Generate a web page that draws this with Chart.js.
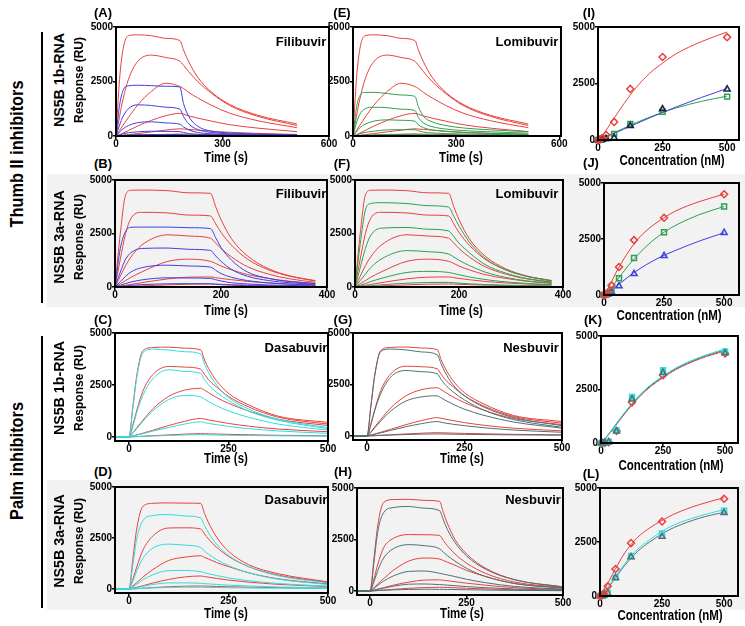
<!DOCTYPE html>
<html>
<head>
<meta charset="utf-8">
<script src="https://cdn.jsdelivr.net/npm/chart.js@4.4.0/dist/chart.umd.min.js"></script>
<style>
  body { margin: 0; background: #fff; }
  #fig { position: relative; width: 745px; height: 626px; overflow: hidden; font-family: 'Liberation Sans', Arial, sans-serif; color: #000; }
  .t { position: absolute; white-space: nowrap; line-height: 1; font-weight: bold; }
  .band { position: absolute; background: #f2f2f2; }
  .rule { position: absolute; background: #000; width: 2px; }
</style>
</head>
<body>
<div id="fig">
  <div class="band" style="left:47px;top:174px;width:698px;height:133px"></div>
  <div class="band" style="left:47px;top:480px;width:698px;height:130px"></div>
  <div class="rule" style="left:41px;top:32px;height:271px"></div>
  <div class="rule" style="left:41px;top:336px;height:272px"></div>
</div>
<script>
// ---------- data ----------
// sensorgram time points (s)
var tThumb1b = [0, 10, 20, 35, 60, 100, 140, 180, 190, 205, 230, 270, 320, 400, 510];
var tThumb3a = [0, 10, 20, 30, 50, 100, 140, 180, 190, 200, 220, 250, 290, 330, 378];
var tPalm = [-35, 0, 10, 20, 35, 60, 100, 140, 180, 190, 200, 220, 250, 300, 375, 500];

// (A)/(E) reference red curves, NS5B 1b
var red1bThumb = [
  [0, 2600, 4000, 4600, 4640, 4600, 4480, 4380, 3950, 3400, 2700, 2000, 1450, 950, 550],
  [0, 900, 1700, 2600, 3400, 3710, 3600, 3430, 3250, 2950, 2500, 1950, 1400, 900, 480],
  [0, 250, 500, 850, 1400, 2050, 2420, 2270, 2180, 2000, 1750, 1400, 1050, 700, 380],
  [0, 60, 130, 250, 450, 720, 930, 1040, 1000, 920, 820, 680, 520, 360, 200],
  [0, 15, 30, 60, 110, 190, 270, 330, 320, 300, 270, 220, 170, 120, 70],
  [0, 5, 10, 20, 35, 55, 75, 90, 88, 85, 80, 70, 55, 40, 25]
];
var filib1b = [
  [0, 1400, 2100, 2300, 2330, 2310, 2280, 2250, 1500, 900, 450, 220, 140, 90, 60],
  [0, 500, 900, 1250, 1430, 1400, 1320, 1230, 900, 550, 300, 160, 100, 70, 45],
  [0, 180, 330, 480, 610, 650, 600, 540, 420, 280, 160, 100, 70, 50, 35],
  [0, 50, 100, 150, 190, 220, 210, 200, 160, 110, 70, 50, 40, 30, 25],
  [0, 15, 30, 45, 60, 70, 70, 65, 55, 40, 30, 25, 20, 15, 12]
];
var lomib1b = [
  [0, 1300, 1850, 2000, 2000, 1950, 1880, 1820, 1350, 900, 650, 480, 370, 280, 200],
  [0, 600, 1000, 1250, 1320, 1300, 1230, 1170, 850, 600, 430, 320, 250, 190, 130],
  [0, 200, 380, 540, 680, 740, 720, 680, 520, 380, 280, 210, 160, 120, 80],
  [0, 50, 100, 160, 220, 280, 290, 290, 240, 180, 140, 110, 90, 70, 50],
  [0, 10, 20, 35, 50, 70, 80, 85, 75, 60, 50, 40, 35, 30, 25]
];

// (B)/(F) NS5B 3a
var red3aThumb = [
  [0, 2500, 4300, 4520, 4530, 4500, 4400, 4380, 3750, 3150, 2250, 1450, 850, 520, 300],
  [0, 1300, 2500, 3200, 3490, 3460, 3360, 3320, 2950, 2550, 1950, 1300, 800, 500, 280],
  [0, 500, 1000, 1400, 1950, 2440, 2380, 2280, 2050, 1800, 1400, 950, 600, 380, 220],
  [0, 150, 300, 450, 700, 1200, 1300, 1200, 1100, 980, 800, 580, 400, 270, 170],
  [0, 40, 80, 120, 200, 380, 460, 470, 440, 400, 340, 260, 190, 140, 100],
  [0, 10, 20, 30, 50, 100, 130, 140, 135, 125, 110, 90, 70, 55, 40]
];
var filib3a = [
  [0, 1800, 2600, 2790, 2800, 2800, 2770, 2730, 2300, 1850, 1250, 700, 400, 250, 160],
  [0, 700, 1300, 1600, 1800, 1820, 1760, 1710, 1450, 1200, 820, 500, 300, 200, 130],
  [0, 250, 500, 700, 900, 1020, 980, 930, 780, 630, 450, 300, 190, 130, 90],
  [0, 80, 160, 230, 330, 430, 420, 400, 340, 280, 200, 140, 95, 70, 50],
  [0, 25, 50, 75, 110, 150, 155, 150, 130, 110, 85, 60, 45, 35, 25]
];
var lomib3a = [
  [0, 2000, 3600, 3900, 3940, 3900, 3800, 3735, 3300, 2850, 2100, 1350, 800, 500, 300],
  [0, 900, 1800, 2400, 2750, 2780, 2700, 2620, 2350, 2050, 1600, 1050, 650, 400, 240],
  [0, 300, 600, 900, 1300, 1700, 1650, 1540, 1400, 1250, 1000, 700, 450, 290, 180],
  [0, 80, 160, 250, 400, 680, 730, 680, 630, 570, 470, 350, 240, 170, 110],
  [0, 20, 40, 60, 100, 180, 210, 215, 200, 180, 150, 115, 85, 65, 45]
];

// (C)/(G) palm, NS5B 1b
var red1bPalm = [
  [0, 0, 1500, 3000, 4150, 4300, 4320, 4270, 4190, 3700, 3300, 2700, 2100, 1550, 1000, 700],
  [0, 0, 600, 1300, 2200, 3000, 3390, 3360, 3260, 3000, 2750, 2400, 1950, 1450, 950, 620],
  [0, 0, 200, 450, 800, 1350, 1950, 2250, 2340, 2250, 2130, 1900, 1620, 1250, 850, 550],
  [0, 0, 50, 100, 180, 320, 550, 750, 890, 860, 820, 750, 650, 520, 380, 250],
  [0, 0, 10, 20, 35, 60, 100, 135, 160, 155, 150, 140, 125, 105, 80, 55]
];
var dasa1b = [
  [0, 0, 1400, 2900, 4050, 4220, 4180, 4100, 4000, 3500, 3100, 2500, 1900, 1350, 850, 450],
  [0, 0, 500, 1200, 2000, 2800, 3230, 3150, 3060, 2750, 2500, 2150, 1750, 1250, 800, 400],
  [0, 0, 180, 400, 750, 1250, 1800, 2000, 1935, 1820, 1700, 1500, 1250, 950, 620, 330],
  [0, 0, 40, 90, 160, 280, 450, 620, 730, 690, 650, 590, 510, 400, 290, 170],
  [0, 0, 8, 15, 25, 45, 70, 95, 110, 105, 100, 92, 82, 70, 55, 40]
];
var nesb1b = [
  [0, 0, 1450, 2950, 4100, 4220, 4180, 4080, 3945, 3500, 3100, 2500, 1950, 1400, 900, 500],
  [0, 0, 550, 1250, 2050, 2850, 3180, 3120, 3020, 2750, 2500, 2150, 1750, 1250, 800, 420],
  [0, 0, 180, 400, 720, 1200, 1700, 1900, 1950, 1850, 1740, 1550, 1300, 1000, 680, 380],
  [0, 0, 40, 85, 150, 270, 450, 600, 700, 670, 630, 570, 500, 400, 290, 180],
  [0, 0, 8, 15, 25, 45, 70, 90, 100, 98, 95, 88, 80, 68, 55, 40]
];

// (D) palm, NS5B 3a
var redDasa3a = [
  [0, 0, 1500, 3000, 4050, 4200, 4220, 4210, 4200, 3700, 3250, 2550, 1850, 1200, 750, 350],
  [0, 0, 500, 1100, 1900, 2600, 2990, 3000, 2950, 2700, 2450, 2050, 1600, 1100, 680, 320],
  [0, 0, 150, 320, 580, 950, 1400, 1560, 1630, 1550, 1470, 1300, 1100, 800, 500, 250],
  [0, 0, 40, 90, 160, 290, 470, 590, 640, 610, 580, 520, 440, 340, 230, 120],
  [0, 0, 10, 20, 40, 70, 110, 140, 150, 145, 140, 125, 110, 90, 65, 40]
];
var dasa3a = [
  [0, 0, 1200, 2500, 3350, 3600, 3650, 3580, 3490, 3100, 2750, 2200, 1650, 1100, 650, 300],
  [0, 0, 400, 900, 1500, 2000, 2200, 2150, 2040, 1850, 1700, 1450, 1150, 800, 480, 220],
  [0, 0, 100, 240, 450, 700, 900, 910, 850, 800, 750, 660, 550, 410, 270, 140],
  [0, 0, 30, 70, 130, 220, 300, 300, 280, 265, 250, 225, 190, 150, 100, 60],
  [0, 0, 8, 18, 30, 55, 80, 90, 90, 85, 80, 75, 65, 52, 40, 25]
];
// (H)
var redNesb3a = [
  [0, 0, 1600, 3200, 4300, 4440, 4450, 4400, 4350, 3800, 3300, 2500, 1800, 1100, 550, 200],
  [0, 0, 600, 1300, 2100, 2550, 2740, 2730, 2700, 2450, 2200, 1800, 1350, 850, 430, 170],
  [0, 0, 150, 350, 600, 1000, 1450, 1600, 1550, 1480, 1400, 1250, 1000, 700, 360, 140],
  [0, 0, 40, 90, 160, 280, 430, 530, 540, 520, 500, 450, 380, 280, 160, 70],
  [0, 0, 10, 25, 45, 80, 130, 165, 180, 175, 170, 155, 130, 100, 60, 30]
];
var nesb3a = [
  [0, 0, 1400, 2900, 3800, 4050, 4100, 4020, 3900, 3450, 3000, 2350, 1700, 1050, 540, 200],
  [0, 0, 450, 1000, 1600, 2050, 2250, 2200, 2050, 1880, 1720, 1450, 1100, 700, 360, 140],
  [0, 0, 120, 280, 480, 730, 950, 970, 860, 820, 780, 700, 570, 400, 220, 90],
  [0, 0, 35, 80, 140, 230, 330, 340, 310, 300, 285, 255, 215, 160, 95, 40],
  [0, 0, 10, 20, 35, 55, 75, 85, 80, 78, 75, 70, 60, 45, 30, 15]
];

// steady-state binding (nM vs RU)
var conc = [0, 7.8, 15.6, 31.25, 62.5, 125, 250, 500];
var fitConc = [0, 25, 50, 100, 150, 200, 250, 300, 400, 500];

var iRed = [0, 30, 80, 220, 800, 2260, 3670, 4550];
var iBlue = [0, 10, 20, 50, 100, 630, 1370, 2250];
var iGreen = [0, 10, 25, 80, 270, 710, 1250, 1920];
var iRedFit = [0, 330, 750, 1600, 2350, 2950, 3400, 3800, 4350, 4780];
var iBlueFit = [0, 110, 230, 480, 730, 980, 1220, 1450, 1880, 2280];
var iGreenFit = [0, 120, 250, 520, 780, 1010, 1220, 1410, 1710, 1940];

var jRed = [0, 40, 100, 430, 1250, 2450, 3450, 4500];
var jGreen = [0, 20, 60, 240, 750, 1650, 2800, 3950];
var jBlue = [0, 10, 30, 130, 400, 950, 1750, 2780];
var jRedFit = [0, 450, 1000, 1900, 2600, 3080, 3450, 3760, 4180, 4500];
var jGreenFit = [0, 250, 600, 1300, 1900, 2400, 2800, 3120, 3600, 3950];
var jBlueFit = [0, 150, 370, 800, 1180, 1500, 1770, 2000, 2420, 2780];

var kCyan = [0, 0, 10, 60, 600, 2150, 3400, 4280];
var kGray = [0, 0, 10, 50, 550, 2050, 3280, 4200];
var kRed = [0, 0, 5, 40, 560, 1900, 3170, 4180];
var kCyanFit = [0, 340, 730, 1500, 2180, 2720, 3130, 3500, 4020, 4400];
var kGrayFit = [0, 330, 710, 1470, 2140, 2680, 3090, 3460, 3980, 4350];
var kRedFit = [0, 310, 680, 1430, 2100, 2640, 3050, 3420, 3940, 4300];

var lRed = [0, 30, 120, 450, 1250, 2450, 3450, 4500];
var lCyan = [0, 10, 50, 150, 850, 1850, 2900, 3950];
var lGray = [0, 5, 30, 120, 850, 1800, 2750, 3850];
var lRedFit = [0, 450, 1000, 2000, 2700, 3150, 3500, 3800, 4230, 4550];
var lCyanFit = [0, 300, 700, 1500, 2150, 2600, 3000, 3300, 3700, 4000];
var lGrayFit = [0, 280, 650, 1420, 2050, 2500, 2880, 3180, 3600, 3880];

var yTicks = [0, 2500, 5000];

// ---------- colours ----------
var RED = '#e8403c', BLUE = '#3f3fe0', GREEN = '#2f9f50', CYAN = '#2fdcdf', SLATE = '#4f7076', NAVY = '#1c1c48';

var fig = document.getElementById('fig');

function curves(times, rows, color) {
	return rows.map(function(r) {
		return {
			data: times.map(function(t, i) { return { x: t, y: r[i] }; }),
			borderColor: color, borderWidth: 1, pointRadius: 0,
			cubicInterpolationMode: 'monotone', fill: false
		};
	});
}

function marks(xs, ys, color, style, fillColor) {
	return {
		data: xs.map(function(x, i) { return { x: x, y: ys[i] }; }),
		showLine: false, pointStyle: style, pointRadius: 3.5,
		pointBorderColor: color, pointBackgroundColor: fillColor || 'rgba(0,0,0,0)',
		pointBorderWidth: 1.5, borderColor: color, clip: false
	};
}

function axis(min, max, ticks, size, dim, pad) {
	return {
		type: 'linear', min: min, max: max,
		afterBuildTicks: function(s) { s.ticks = ticks.map(function(v) { return { value: v }; }); },
		afterFit: function(s) { s[dim] = size; },
		grid: { drawOnChartArea: false, drawTicks: true, tickLength: 3, color: '#000', lineWidth: 1.5 },
		border: { display: false },
		ticks: {
			font: { family: 'Liberation Sans', size: 10, weight: 'bold' }, color: '#000',
			padding: pad, maxRotation: 0, autoSkip: false,
			callback: function(v) { return String(v); }
		}
	};
}

var frame = {
	id: 'frame',
	afterDraw: function(chart) {
		var a = chart.chartArea, ctx = chart.ctx;
		ctx.save();
		ctx.strokeStyle = '#000';
		ctx.lineWidth = 2;
		ctx.strokeRect(a.left, a.top, a.right - a.left, a.bottom - a.top);
		ctx.restore();
	}
};

// box = [left, top, right, bottom] of the plot area in page pixels
function panel(box, xMin, xMax, xTicks, yMin, sets) {
	var L = box[0], T = box[1], R = box[2], B = box[3];
	var w = R - L + 54, h = B - T + 24;
	var cv = document.createElement('canvas');
	cv.width = w; cv.height = h;
	cv.style.cssText = 'position:absolute;left:' + (L - 40) + 'px;top:' + (T - 8) + 'px;width:' + w + 'px;height:' + h + 'px';
	fig.appendChild(cv);
	new Chart(cv, {
		type: 'line',
		data: { datasets: sets },
		options: {
			responsive: false, animation: false, devicePixelRatio: 1,
			layout: { padding: { left: 0, top: 8, right: 14, bottom: 0 } },
			plugins: { legend: { display: false }, tooltip: { enabled: false } },
			scales: {
				x: axis(xMin, xMax, xTicks, 16, 'height', -1),
				y: axis(yMin, 5000, yTicks, 40, 'width', 0)
			}
		},
		plugins: [frame]
	});
}

function text(s, cx, cy, size, rot, sx) {
	var d = document.createElement('div');
	d.className = 't';
	d.textContent = s;
	d.style.left = cx + 'px';
	d.style.top = cy + 'px';
	d.style.fontSize = size + 'px';
	d.style.transform = 'translate(-50%,-50%) rotate(' + (rot || 0) + 'deg) scaleX(' + (sx || 1) + ')';
	fig.appendChild(d);
}

// ---------- panels ----------
// first sets in the list are drawn on top
panel([116, 27, 329, 136], 0, 600, [0, 300, 600], 0,
	curves(tThumb1b, filib1b, BLUE).concat(curves(tThumb1b, red1bThumb, RED)));
panel([353, 27, 561, 136], 0, 605, [0, 300, 600], 0,
	curves(tThumb1b, lomib1b, GREEN).concat(curves(tThumb1b, red1bThumb, RED)));
panel([598, 27, 739, 140], 0, 546, [0, 250, 500], 0,
	[marks(conc, iRed, RED, 'rectRot'), marks(conc, iBlue, NAVY, 'triangle'), marks(conc, iGreen, GREEN, 'rect')]
	.concat(curves(fitConc, [iRedFit], RED), curves(fitConc, [iBlueFit], BLUE), curves(fitConc, [iGreenFit], GREEN)));

panel([115, 180, 327, 287], 0, 400, [0, 200, 400], 0,
	curves(tThumb3a, filib3a, BLUE).concat(curves(tThumb3a, red3aThumb, RED)));
panel([355, 180, 563, 287], 0, 400, [0, 200, 400], 0,
	curves(tThumb3a, lomib3a, GREEN).concat(curves(tThumb3a, red3aThumb, RED)));
panel([604, 183, 739, 295], 0, 562, [0, 250, 500], 0,
	[marks(conc, jRed, RED, 'rectRot'), marks(conc, jGreen, GREEN, 'rect'), marks(conc, jBlue, BLUE, 'triangle')]
	.concat(curves(fitConc, [jRedFit], RED), curves(fitConc, [jGreenFit], GREEN), curves(fitConc, [jBlueFit], BLUE)));

panel([115, 333, 328, 441], -35, 500, [0, 250, 500], -195,
	curves(tPalm, dasa1b, CYAN).concat(curves(tPalm, red1bPalm, RED)));
panel([353, 333, 562, 440], -36, 500, [0, 250, 500], -195,
	curves(tPalm, nesb1b, SLATE).concat(curves(tPalm, red1bPalm, RED)));
panel([601, 336, 738, 443], 0, 552, [0, 250, 500], 0,
	[marks(conc, kGray, SLATE, 'triangle'), marks(conc, kCyan, CYAN, 'rect', CYAN), marks(conc, kRed, RED, 'rectRot')]
	.concat(curves(fitConc, [kCyanFit], CYAN), curves(fitConc, [kGrayFit], SLATE), curves(fitConc, [kRedFit], RED)));

panel([115, 487, 328, 593], -35, 500, [0, 250, 500], -195,
	curves(tPalm, dasa3a, CYAN).concat(curves(tPalm, redDasa3a, RED)));
panel([357, 488, 563, 595], -34, 500, [0, 250, 500], -195,
	curves(tPalm, nesb3a, SLATE).concat(curves(tPalm, redNesb3a, RED)));
panel([600, 488, 738, 596], 0, 556, [0, 250, 500], 0,
	[marks(conc, lRed, RED, 'rectRot'), marks(conc, lGray, SLATE, 'triangle'), marks(conc, lCyan, CYAN, 'rect')]
	.concat(curves(fitConc, [lRedFit], RED), curves(fitConc, [lCyanFit], CYAN), curves(fitConc, [lGrayFit], SLATE)));

// ---------- labels ----------
text('Thumb II inhibitors', 16, 154, 19, -90, 0.86);
text('Palm inhibitors', 16, 461, 19, -90, 0.86);

[['NS5B 1b-RNA', 80], ['NS5B 3a-RNA', 237], ['NS5B 1b-RNA', 388], ['NS5B 3a-RNA', 541]].forEach(function(r) {
	text(r[0], 58, r[1], 15, -90, 0.95);
	text('Response (RU)', 79, r[1], 12, -90);
});

[['(A)', 103, 12], ['(E)', 342, 12], ['(I)', 589, 12],
 ['(B)', 103, 163], ['(F)', 342, 163], ['(J)', 591, 162],
 ['(C)', 103, 319], ['(G)', 343, 319], ['(K)', 593, 319],
 ['(D)', 103, 471], ['(H)', 343, 471], ['(L)', 591, 473]].forEach(function(p) {
	text(p[0], p[1], p[2], 13);
});

[['Filibuvir', 301, 41], ['Lomibuvir', 527, 41], ['Filibuvir', 301, 193], ['Lomibuvir', 527, 193],
 ['Dasabuvir', 296, 347], ['Nesbuvir', 531, 347], ['Dasabuvir', 296, 499], ['Nesbuvir', 533, 499]].forEach(function(p) {
	text(p[0], p[1], p[2], 13);
});

[[226, 157], [461, 157], [226, 310], [461, 310], [226, 458], [462, 458], [226, 613], [462, 613]].forEach(function(p) {
	text('Time (s)', p[0], p[1], 14, 0, 0.82);
});
[[672, 160], [669, 315], [671, 465], [670, 615]].forEach(function(p) {
	text('Concentration (nM)', p[0], p[1], 14, 0, 0.82);
});
</script>
</body>
</html>
